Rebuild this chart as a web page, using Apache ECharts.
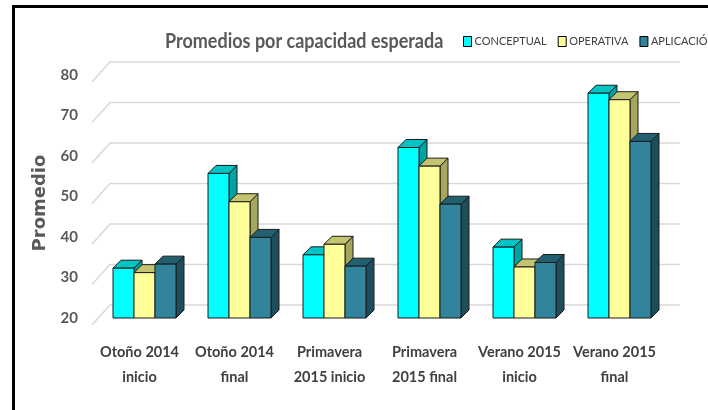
<!DOCTYPE html>
<html>
<head>
    <meta charset="UTF-8">
    <title>Promedios por capacidad esperada</title>
    <script src="https://cdn.jsdelivr.net/npm/echarts@6/dist/echarts.min.js"></script>
    <style>
        html, body { margin: 0; padding: 0; background: #fff; }
        #chart { width: 708px; height: 410px; }
    </style>
</head>
<body>
    <div id="chart"></div>
    <script>
        // datos
        var categorias = ['Otoño 2014\ninicio', 'Otoño 2014\nfinal', 'Primavera\n2015 inicio',
                          'Primavera\n2015 final', 'Verano 2015\ninicio', 'Verano 2015\nfinal'];
        var conceptual = [32.3, 55.7, 35.6, 62.1, 37.5, 75.5];
        var operativa  = [31.2, 48.7, 38.2, 57.5, 32.6, 73.9];
        var aplicacion = [33.3, 39.9, 32.8, 48.1, 33.7, 63.6];
        var yTicks = [20, 30, 40, 50, 60, 70, 80];

        var FONT = "Lato, 'Noto Sans', sans-serif";
        var BW = 21;   // ancho de cada barra
        var D = 8;     // profundidad 3D

        // caras: frente, arriba, lado
        var colores = [
            ['#00FFFF', '#00C4C4', '#00A3A3'],
            ['#FFFF99', '#C4C470', '#A6A65C'],
            ['#31849B', '#21606F', '#1E4E5B']
        ];

        function barra(idx) {
            var c = colores[idx];
            return function (params, api) {
                var top = api.coord([api.value(0), api.value(1)]);
                var base = api.coord([api.value(0), yTicks[0]]);
                var x0 = top[0] + (idx - 1.5) * BW;
                var ty = top[1], by = base[1];
                var st = { stroke: '#1b1b1b', lineWidth: 1 };
                return {
                    type: 'group',
                    children: [
                        { type: 'polygon', shape: { points: [[x0 + BW, ty], [x0 + BW + D, ty - D], [x0 + BW + D, by - D], [x0 + BW, by]] },
                          style: Object.assign({ fill: c[2] }, st) },
                        { type: 'polygon', shape: { points: [[x0, ty], [x0 + BW, ty], [x0 + BW + D, ty - D], [x0 + D, ty - D]] },
                          style: Object.assign({ fill: c[1] }, st) },
                        { type: 'rect', shape: { x: x0, y: ty, width: BW, height: by - ty },
                          style: Object.assign({ fill: c[0] }, st) }
                    ]
                };
            };
        }

        function lineasFondo(params, api) {
            var cs = params.coordSys;
            var y = api.coord([0, api.value(1)])[1];
            return {
                type: 'polyline',
                shape: { points: [[cs.x - 5, y + 7], [cs.x + 13, y - 13], [cs.x + cs.width + 13, y - 13]] },
                style: { stroke: '#d9d9d9', lineWidth: 1.5, fill: null },
                silent: true
            };
        }

        function pares(arr) {
            return arr.map(function (v, i) { return [i, v]; });
        }

        var chart = echarts.init(document.getElementById('chart'), null, { renderer: 'canvas' });
        chart.setOption({
            animation: false,
            backgroundColor: '#fff',
            legend: {
                data: ['CONCEPTUAL', 'OPERATIVA', 'APLICACIÓN'],
                left: 458, top: 31, width: 500,
                icon: 'rect', itemWidth: 8, itemHeight: 10, itemGap: 11,
                itemStyle: { borderColor: '#000', borderWidth: 1 },
                textStyle: { fontFamily: FONT, fontSize: 11, color: '#404040', padding: [0, 0, 0, -2] }
            },
            grid: { left: 97, right: 41, top: 75, bottom: 92 },
            xAxis: {
                type: 'category',
                data: categorias,
                axisLine: { show: false },
                axisTick: { show: false },
                axisLabel: {
                    interval: 0, margin: 22, lineHeight: 25, padding: [0, 10, 0, 0],
                    fontFamily: FONT, fontWeight: 'bold', fontSize: 14.5, color: '#404040'
                }
            },
            yAxis: {
                type: 'value',
                min: 20, max: 80, interval: 10,
                axisLine: { show: false },
                axisTick: { show: false },
                splitLine: { show: false },
                axisLabel: {
                    margin: 19, padding: [14, 0, 0, 0],
                    fontFamily: FONT, fontWeight: 'bold', fontSize: 15, color: '#595959'
                }
            },
            graphic: [
                {
                    type: 'text', x: 165, y: 42, scaleX: 0.9, silent: true,
                    style: {
                        text: 'Promedios por capacidad esperada', verticalAlign: 'middle',
                        font: 'bold 20px ' + FONT, fill: '#595959'
                    }
                },
                {
                    type: 'text', x: 40, y: 203, rotation: Math.PI / 2, silent: true,
                    style: {
                        text: 'Promedio', align: 'center', verticalAlign: 'middle',
                        font: 'bold 18px "DejaVu Sans"', fill: '#595959'
                    }
                },
                {
                    type: 'rect', left: 11, top: 4, z: 100, silent: true,
                    shape: { width: 800, height: 500 },
                    style: { fill: null, stroke: '#000', lineWidth: 3 }
                }
            ],
            series: [
                { type: 'custom', name: 'rejilla', renderItem: lineasFondo, data: yTicks.map(function (v) { return [0, v]; }), z: 1 },
                { type: 'custom', name: 'CONCEPTUAL', renderItem: barra(0), data: pares(conceptual), itemStyle: { color: colores[0][0] }, z: 2 },
                { type: 'custom', name: 'OPERATIVA', renderItem: barra(1), data: pares(operativa), itemStyle: { color: colores[1][0] }, z: 2 },
                { type: 'custom', name: 'APLICACIÓN', renderItem: barra(2), data: pares(aplicacion), itemStyle: { color: colores[2][0] }, z: 2 }
            ]
        });
    </script>
</body>
</html>
